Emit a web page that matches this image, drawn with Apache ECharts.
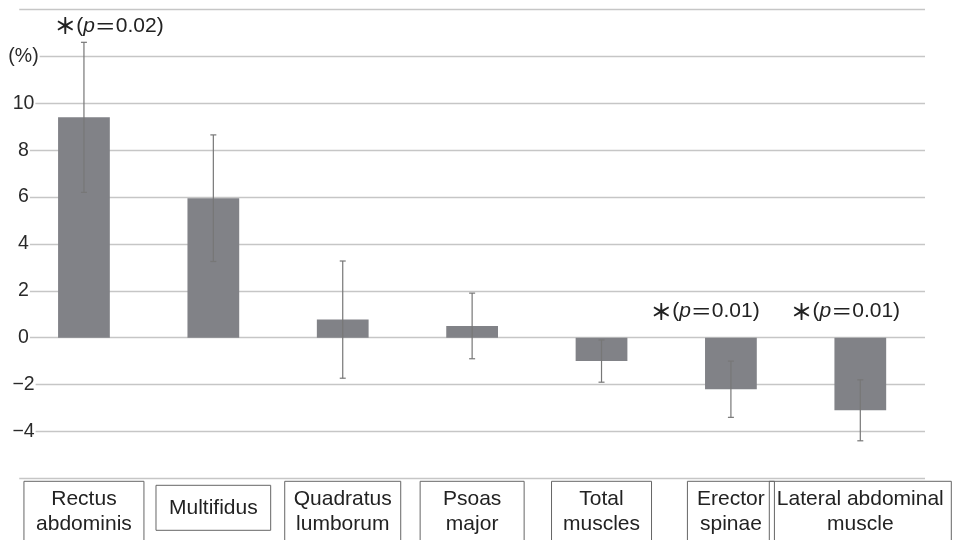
<!DOCTYPE html>
<html>
<head>
<meta charset="utf-8">
<script src="https://cdn.jsdelivr.net/npm/echarts@6/dist/echarts.min.js"></script>
<style>html,body{margin:0;padding:0;background:#fff}#c{width:954px;height:540px}</style>
</head>
<body>
<div id="c"></div>
<script>
// ---- data ----
var categories = ['Rectus\nabdominis', 'Multifidus', 'Quadratus\nlumborum', 'Psoas\nmajor', 'Total\nmuscles', 'Erector\nspinae', 'Lateral abdominal\nmuscle'];
var means = [9.4, 5.95, 0.77, 0.5, -1.0, -2.2, -3.1];
var errors = [3.2, 2.7, 2.5, 1.4, 0.9, 1.2, 1.3];
var yTickLabels = {'-6': '', '-4': '\u22124', '-2': '\u22122', '0': '0', '2': '2', '4': '4', '6': '6', '8': '8', '10': '10', '12': '(%)', '14': ''};
var annotCategory = [0, 5, 6];
var annotValue = [13.3, 1.13, 1.13];
var annotP = ['0.02', '0.01', '0.01'];

// ---- layout / style ----
var boxWidths = [120, 118, 116, 104, 100, 87, 182];
var annotDx = [25, -26, -15];
var FONT = '"Liberation Sans", Arial, Helvetica, sans-serif';

var chart = echarts.init(document.getElementById('c'));

var xData = categories.map(function (c, i) {
  var twoLine = c.indexOf('\n') >= 0;
  if (twoLine) {
    return {value: c, textStyle: {width: boxWidths[i], padding: [5, 0, 5, 0]}};
  }
  // single-line label: invisible outer box, bordered inner box, vertically centred
  return {value: c, textStyle: {borderWidth: 0, padding: [14, 0, 0, 0]}};
});

var option = {
  animation: false,
  grid: {left: 19.25, right: 29, top: 9.5, bottom: 61.7, containLabel: false, outerBoundsMode: 'none'},
  xAxis: {
    type: 'category',
    data: xData,
    axisLine: {show: false},
    axisTick: {show: false},
    splitLine: {show: false},
    axisLabel: {
      interval: 0,
      margin: 3,
      align: 'center',
      fontFamily: FONT,
      fontSize: 21,
      lineHeight: 25,
      color: '#222',
      borderColor: '#666',
      borderWidth: 1,
      hideOverlap: false,
      formatter: function (v, i) {
        return v.indexOf('\n') >= 0 ? v : '{m|' + v + '}';
      },
      rich: {
        m: {
          fontFamily: FONT, fontSize: 21, lineHeight: 25, color: '#222',
          borderColor: '#666', borderWidth: 1,
          padding: [12, 13, 12, 13]
        }
      }
    }
  },
  yAxis: {
    type: 'value',
    min: -6, max: 14, interval: 2,
    axisLine: {show: false},
    axisTick: {show: false},
    splitLine: {show: true, lineStyle: {color: '#c6c6c6', width: 1.3}},
    axisLabel: {
      margin: -4.25,
      align: 'center',
      fontFamily: FONT,
      fontSize: 19.5,
      color: '#2a2a2a',
      backgroundColor: '#fff',
      padding: [0, 1],
      formatter: function (v) { return yTickLabels[String(v)]; }
    }
  },
  series: [
    {
      type: 'bar',
      data: means,
      barWidth: '40%',
      itemStyle: {color: '#818287'},
      z: 2
    },
    {
      type: 'custom',
      z: 3,
      data: means.map(function (m, i) { return [i, m - errors[i], m + errors[i]]; }),
      renderItem: function (params, api) {
        var x = api.value(0);
        var lo = api.coord([x, api.value(1)]);
        var hi = api.coord([x, api.value(2)]);
        var cap = 3;
        var st = {stroke: '#777', lineWidth: 1.2};
        return {
          type: 'group',
          children: [
            {type: 'line', shape: {x1: lo[0], y1: lo[1], x2: hi[0], y2: hi[1]}, style: st},
            {type: 'line', shape: {x1: lo[0] - cap, y1: lo[1], x2: lo[0] + cap, y2: lo[1]}, style: st},
            {type: 'line', shape: {x1: hi[0] - cap, y1: hi[1], x2: hi[0] + cap, y2: hi[1]}, style: st}
          ]
        };
      }
    },
    {
      type: 'custom',
      z: 4,
      data: annotCategory.map(function (c, i) { return [c, annotValue[i], i]; }),
      renderItem: function (params, api) {
        var idx = api.value(2);
        var p = api.coord([api.value(0), api.value(1)]);
        return {
          type: 'text',
          x: p[0] + annotDx[idx],
          y: p[1],
          style: {
            text: '{s|\uFF0A}{t|(}{i|p}{e|\uFF1D}{t|' + annotP[idx] + ')}',
            align: 'center',
            verticalAlign: 'middle',
            rich: {
              s: {fontFamily: '"Noto Sans CJK JP", sans-serif', fontSize: 22, fontWeight: 'bold', fill: '#222'},
              t: {fontFamily: FONT, fontSize: 21, fill: '#222'},
              i: {fontFamily: FONT, fontSize: 21, fontStyle: 'italic', fill: '#222'},
              e: {fontFamily: '"Noto Sans CJK JP", sans-serif', fontSize: 21, fill: '#222'}
            }
          }
        };
      }
    }
  ]
};
chart.setOption(option);
</script>
</body>
</html>
